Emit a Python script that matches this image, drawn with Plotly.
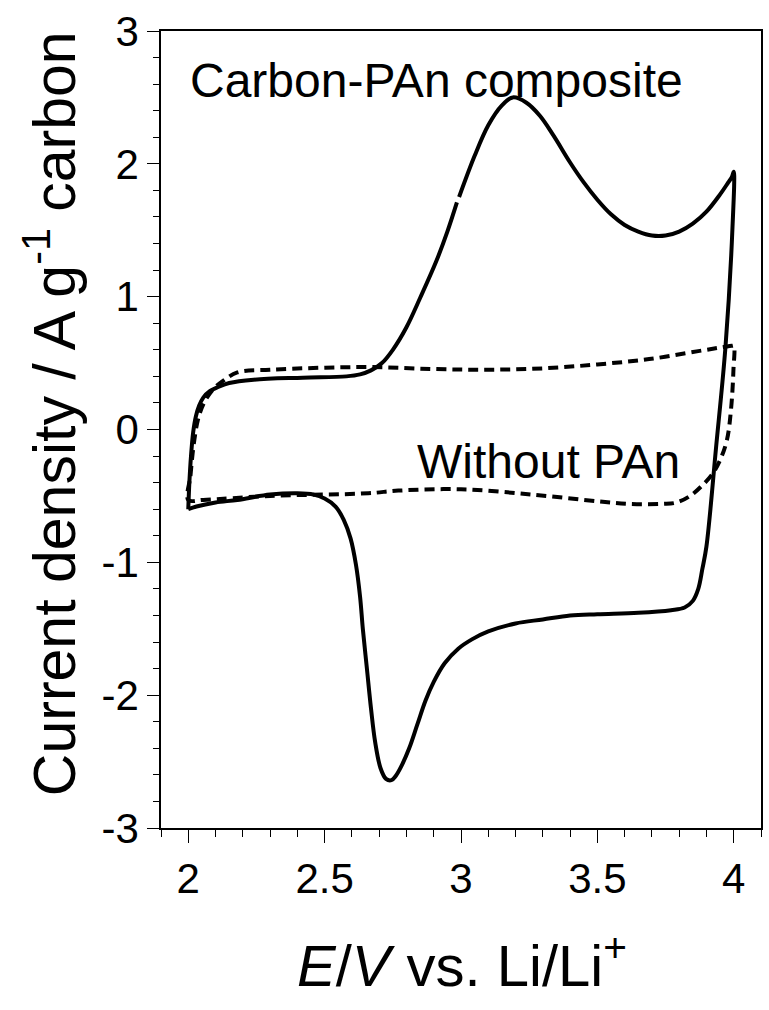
import plotly.graph_objects as go

# Cyclic voltammograms: potential E (V vs. Li/Li+) and current density (A g^-1 carbon)
# Carbon-PAn composite (solid). None marks a short dropout in the recorded trace.
composite_E = [
    2.0, 2.004, 2.01, 2.018, 2.028, 2.04, 2.055, 2.08, 2.11, 2.15, 2.24, 2.42,
    2.58, 2.63, 2.67, 2.71, 2.75, 2.80, 2.85, 2.91, 2.95, 2.985, None, 2.993,
    3.05, 3.10, 3.15, 3.19, 3.24, 3.29, 3.34, 3.40, 3.45, 3.50, 3.55, 3.60,
    3.65, 3.70, 3.75, 3.80, 3.85, 3.90, 3.95, 3.98, 3.993, 4.0,
    3.995, 3.97, 3.935, 3.90, 3.885, 3.87, 3.85, 3.82, 3.77, 3.65, 3.50, 3.40,
    3.30, 3.20, 3.10, 3.04, 2.99, 2.94, 2.90, 2.87, 2.84, 2.81, 2.78, 2.76,
    2.745, 2.725, 2.705, 2.685, 2.67, 2.655, 2.64, 2.63, 2.615, 2.595, 2.57,
    2.54, 2.50, 2.46, 2.40, 2.30, 2.18, 2.10, 2.03, 2.0,
]
composite_j = [
    -0.60, -0.40, -0.20, -0.02, 0.10, 0.18, 0.24, 0.29, 0.32, 0.35, 0.375, 0.39,
    0.40, 0.415, 0.445, 0.50, 0.60, 0.77, 0.99, 1.27, 1.49, 1.71, None, 1.75,
    2.06, 2.29, 2.44, 2.50, 2.46, 2.36, 2.21, 2.01, 1.86, 1.73, 1.62, 1.54,
    1.49, 1.46, 1.46, 1.49, 1.55, 1.64, 1.77, 1.86, 1.90, 1.94,
    1.50, 0.63, -0.14, -0.88, -1.05, -1.20, -1.29, -1.34, -1.36, -1.38, -1.39, -1.40,
    -1.43, -1.46, -1.52, -1.58, -1.65, -1.76, -1.90, -2.04, -2.22, -2.40, -2.54, -2.61,
    -2.64, -2.63, -2.55, -2.35, -2.10, -1.80, -1.50, -1.26, -1.02, -0.82, -0.68,
    -0.58, -0.52, -0.49, -0.48, -0.49, -0.53, -0.55, -0.58, -0.60,
]

# Carbon without PAn (dashed)
bare_E = [
    2.0, 2.008, 2.016, 2.025, 2.035, 2.055, 2.09, 2.13, 2.18, 2.30, 2.66, 2.90,
    3.10, 3.30, 3.50, 3.69, 3.87, 3.96, 3.993, 4.0,
    3.999, 3.99, 3.975, 3.95, 3.92, 3.88, 3.84, 3.79, 3.74, 3.62, 3.50, 3.26,
    3.00, 2.77, 2.66, 2.30, 2.055, 2.0,
]
bare_j = [
    -0.53, -0.35, -0.18, -0.04, 0.07, 0.19, 0.30, 0.37, 0.43, 0.45, 0.47, 0.455,
    0.45, 0.46, 0.49, 0.53, 0.59, 0.62, 0.63, 0.63,
    0.45, 0.15, -0.08, -0.23, -0.34, -0.43, -0.50, -0.55, -0.56, -0.56, -0.54, -0.49,
    -0.45, -0.46, -0.48, -0.50, -0.53, -0.53,
]

x_ticks = [2, 2.5, 3, 3.5, 4]
x_ticklabels = ["2", "2.5", "3", "3.5", "4"]
y_ticks = [-3, -2, -1, 0, 1, 2, 3]
y_ticklabels = ["-3", "-2", "-1", "0", "1", "2", "3"]

FONT = "Liberation Sans, Arial, sans-serif"

fig = go.Figure()
fig.add_trace(go.Scatter(
    x=composite_E, y=composite_j, mode="lines",
    line=dict(color="black", width=4, shape="spline", smoothing=1.0),
    connectgaps=False, showlegend=False,
))
fig.add_trace(go.Scatter(
    x=bare_E, y=bare_j, mode="lines",
    line=dict(color="black", width=4, dash="10px,6px", shape="spline", smoothing=1.0),
    showlegend=False,
))

axis_common = dict(
    showgrid=False, zeroline=False, showline=True, linecolor="black", linewidth=1.5,
    mirror=True, ticks="outside", tickcolor="black", tickwidth=1.3,
    tickfont=dict(family=FONT, size=42, color="black"),
)

fig.update_xaxes(
    range=[1.9, 4.1], tickvals=x_ticks, ticktext=x_ticklabels, ticklen=13,
    minor=dict(dtick=0.1, tick0=1.9, ticks="outside", ticklen=7, tickcolor="black", tickwidth=1.3),
    **axis_common,
)
fig.update_yaxes(
    range=[-3, 3], tickvals=y_ticks, ticktext=y_ticklabels, ticklen=12,
    minor=dict(dtick=0.2, tick0=-3, ticks="outside", ticklen=6, tickcolor="black", tickwidth=1.3),
    **axis_common,
)

annotations = [
    dict(x=2.0, y=2.63, xref="x", yref="y", text="Carbon-PAn composite",
         xanchor="left", yanchor="middle", showarrow=False,
         font=dict(family=FONT, size=48, color="black")),
    dict(x=2.83, y=-0.24, xref="x", yref="y", text="Without PAn",
         xanchor="left", yanchor="middle", showarrow=False,
         font=dict(family=FONT, size=48, color="black")),
    dict(x=-0.184, y=0.52, xref="paper", yref="paper",
         text="Current density / A g<sup>-1</sup> carbon", textangle=-90,
         xanchor="center", yanchor="middle", showarrow=False,
         font=dict(family=FONT, size=59, color="black")),
    dict(x=0.502, y=-0.168, xref="paper", yref="paper",
         text="<i>E</i>/<i>V</i> vs. Li/Li<sup>+</sup>",
         xanchor="center", yanchor="middle", showarrow=False,
         font=dict(family=FONT, size=58, color="black")),
]

fig.update_layout(
    width=769, height=1010,
    margin=dict(l=161, r=6, t=31, b=182),
    paper_bgcolor="white", plot_bgcolor="white",
    annotations=annotations,
)

fig.write_html("out.html")
